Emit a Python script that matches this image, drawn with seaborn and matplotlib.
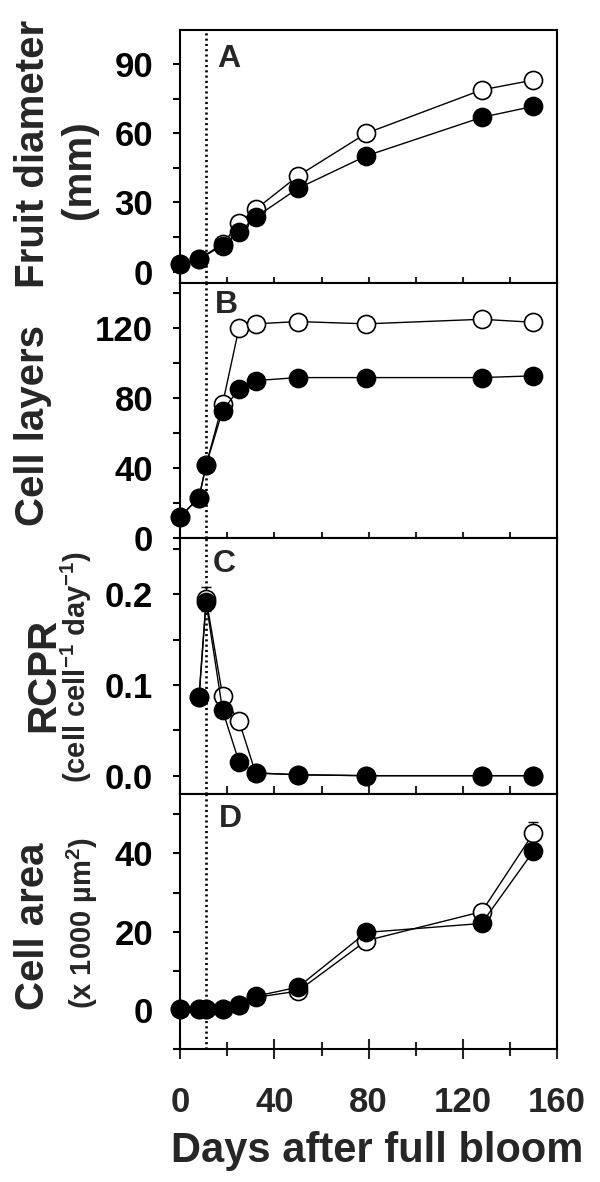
import numpy as np
import pandas as pd
import matplotlib
matplotlib.use("Agg")
import matplotlib.pyplot as plt
import seaborn as sns
from matplotlib.ticker import FixedLocator, FormatStrFormatter

# ---------------- data ----------------
days_a = [0, 8, 18, 25, 32, 50, 79, 128, 150]
diam_open = [3.2, 5.5, 12.0, 21.0, 27.0, 41.5, 60.0, 78.8, 83.1]
diam_filled = [3.2, 5.5, 11.3, 17.1, 23.6, 36.1, 50.2, 66.9, 71.7]

days_b = [0, 8, 11, 18, 25, 32, 50, 79, 128, 150]
layers_open = [12.4, 23.2, 41.9, 76.8, 120.4, 122.5, 123.8, 122.5, 125.1, 123.4]
layers_filled = [12.4, 23.2, 41.9, 73.0, 85.3, 90.1, 91.8, 91.8, 91.8, 92.8]

days_c = [8, 11, 18, 25, 32, 50, 79, 128, 150]
rcpr_open = [0.087, 0.195, 0.088, 0.060, 0.003, 0.001, 0.0, 0.0, 0.0]
rcpr_filled = [0.087, 0.191, 0.072, 0.015, 0.003, 0.001, 0.0, 0.0, 0.0]
rcpr_open_err = [0, 0.013, 0, 0, 0, 0, 0, 0, 0]

days_d = [0, 8, 11, 18, 25, 32, 50, 79, 128, 150]
area_open = [0.1, 0.1, 0.1, 0.3, 1.3, 3.2, 4.8, 17.7, 25.1, 45.2]
area_filled = [0.1, 0.1, 0.1, 0.3, 1.3, 3.5, 5.8, 19.8, 22.1, 40.6]
area_open_err = [0, 0, 0, 0, 0, 0, 0, 0, 0, 2.8]

bloom_marker_day = 11

panel_letters = ["A", "B", "C", "D"]
ylabels_main = ["Fruit diameter", "Cell layers", "RCPR", "Cell area"]
ylabels_sub = ["(mm)", None, r"(cell cell$^{-1}$ day$^{-1}$)", "(x 1000 µm$^{2}$)"]
xlabel = "Days after full bloom"

y_major = [[0, 30, 60, 90], [0, 40, 80, 120], [0.0, 0.1, 0.2], [0, 20, 40]]
y_minor = [[15, 45, 75], [20, 60, 100, 140], [0.05, 0.15, 0.25], [-10, 10, 30, 50]]
y_lims = [(-4.8, 104.8), (0, 146), (-0.0202, 0.2617), (-10, 55.2)]
x_major = [0, 40, 80, 120, 160]
x_minor = [20, 60, 100, 140]

# ---------------- style ----------------
sns.set_style("ticks")
plt.rcParams["font.family"] = ["Liberation Sans", "DejaVu Sans"]
plt.rcParams["font.weight"] = "bold"
plt.rcParams["mathtext.fontset"] = "custom"
plt.rcParams["mathtext.rm"] = "Liberation Sans:bold"
plt.rcParams["mathtext.bf"] = "Liberation Sans:bold"
plt.rcParams["mathtext.it"] = "Liberation Sans:bold"
plt.rcParams["mathtext.default"] = "bf"

W, H = 600, 1182
fig = plt.figure(figsize=(W / 100, H / 100), dpi=100, facecolor="white")
left_px, right_px = 179.5, 557
bounds = [(30, 282.7), (282.7, 538.3), (538.3, 794), (794, 1049)]

axes = []
for top, bot in bounds:
    ax = fig.add_axes([left_px / W, 1 - bot / H, (right_px - left_px) / W, (bot - top) / H])
    axes.append(ax)

series = [
    (days_a, diam_open, diam_filled, None),
    (days_b, layers_open, layers_filled, None),
    (days_c, rcpr_open, rcpr_filled, rcpr_open_err),
    (days_d, area_open, area_filled, area_open_err),
]

ms = 13
for i, (ax, (dx, yo, yf, err)) in enumerate(zip(axes, series)):
    if err is not None:
        dd = [d for d, e in zip(dx, err) if e > 0]
        vv = [v for v, e in zip(yo, err) if e > 0]
        ee = [e for e in err if e > 0]
        ax.errorbar(dd, vv, yerr=ee, fmt="none", ecolor="black", elinewidth=1.0,
                    capsize=3.5, capthick=1.0, zorder=2, clip_on=False)
    sns.lineplot(x=dx, y=yo, ax=ax, color="black", linewidth=1.0, marker="o",
                 markersize=ms, markerfacecolor="white", markeredgecolor="black",
                 markeredgewidth=1.2, zorder=3, clip_on=False)
    sns.lineplot(x=dx, y=yf, ax=ax, color="black", linewidth=1.0, marker="o",
                 markersize=ms, markerfacecolor="black", markeredgecolor="black",
                 markeredgewidth=1.2, zorder=4, clip_on=False)
    ax.axvline(bloom_marker_day, color="black", linewidth=1.9,
               linestyle=(0, (0.8, 1.2)), zorder=1)

    ax.set_xlim(-0.3, 160)
    ax.set_ylim(*y_lims[i])
    ax.yaxis.set_major_locator(FixedLocator(y_major[i]))
    ax.yaxis.set_minor_locator(FixedLocator(y_minor[i]))
    ax.xaxis.set_major_locator(FixedLocator(x_major))
    ax.xaxis.set_minor_locator(FixedLocator(x_minor))
    if i == 2:
        ax.yaxis.set_major_formatter(FormatStrFormatter("%.1f"))

    for s in ax.spines.values():
        s.set_visible(True)
        s.set_linewidth(1.5)
        s.set_color("black")

    ax.tick_params(axis="y", which="both", direction="out", length=5, width=1.5,
                   pad=14, labelsize=25, colors="black")
    if i < 3:
        d = "in" if i == 2 else "inout"
        ax.tick_params(axis="x", which="both", direction=d, length=9 if d == "inout" else 6,
                       width=1.5, labelbottom=False)
    else:
        ax.tick_params(axis="x", which="major", direction="inout", length=14,
                       width=1.5, pad=20, labelsize=25)
        ax.tick_params(axis="x", which="minor", direction="inout", length=10, width=1.5)
    ax.set_xlabel("")
    ax.set_ylabel("")
    ax.set_facecolor("white")

# ---------------- labels ----------------
main_pos = [(-0.359, 0.511), (-0.359, 0.443), (-0.332, 0.465), (-0.359, 0.482)]
sub_pos = [(-0.237, 0.446), None, (-0.248, 0.497), (-0.232, 0.494)]
letter_pos = [(0.099, 0.854), (0.094, 0.881), (0.089, 0.868), (0.105, 0.871)]

for i, ax in enumerate(axes):
    ax.set_ylabel(ylabels_main[i], fontsize=29, fontweight="bold",
                  va="baseline", ha="center")
    ax.yaxis.set_label_coords(*main_pos[i])
    if ylabels_sub[i] is not None:
        fs = 29 if i == 0 else 21
        ax.text(sub_pos[i][0], sub_pos[i][1], ylabels_sub[i], transform=ax.transAxes,
                rotation=90, rotation_mode="anchor", ha="center", va="baseline",
                fontsize=fs, fontweight="bold")
    ax.text(letter_pos[i][0], letter_pos[i][1], panel_letters[i], transform=ax.transAxes,
            ha="left", va="baseline", fontsize=23, fontweight="bold")

axes[3].set_xlabel(xlabel, fontsize=30, fontweight="bold")
axes[3].xaxis.set_label_coords(0.5225, -0.3216)

fig.savefig("out.png", dpi=100, facecolor="white")
